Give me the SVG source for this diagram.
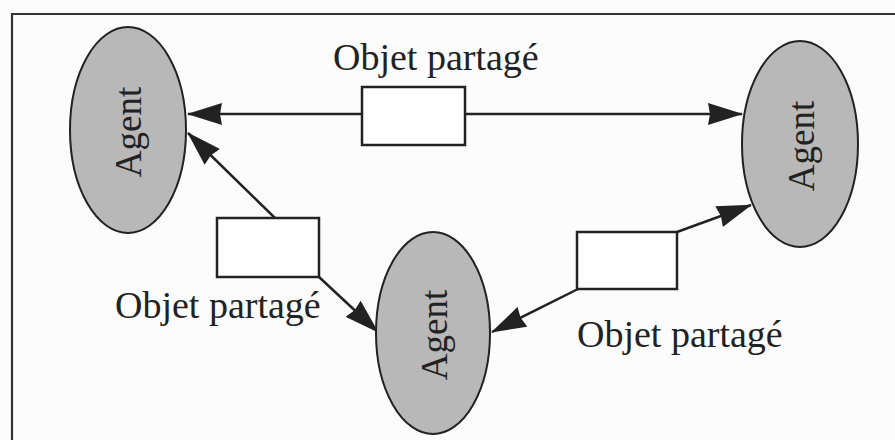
<svg xmlns="http://www.w3.org/2000/svg" width="895" height="440" viewBox="0 0 895 440">
<style>
.frame{fill:none;stroke:#333;stroke-width:2.2}
.agent{fill:#b8b8b8;stroke:#222;stroke-width:2}
.box{fill:#fff;stroke:#222;stroke-width:2.5}
.conn{stroke:#222;stroke-width:2.5;fill:none;marker-end:url(#ah)}
.lbl{font-family:"Liberation Serif","Times New Roman",serif;font-size:38px;fill:#222}
.atxt{font-family:"Liberation Serif","Times New Roman",serif;font-size:37px;fill:#222;text-anchor:middle}
</style>
<defs>
<marker id="ah" viewBox="0 0 35 22" refX="34" refY="11" markerWidth="35" markerHeight="22" markerUnits="userSpaceOnUse" orient="auto">
<path d="M0,0 L35,11 L0,22 L2,11 z" fill="#222"/>
</marker>
</defs>
<rect x="0" y="0" width="895" height="440" fill="#fcfcfc"/>
<path class="frame" d="M12,440 L12,14 L895,14"/>
<g id="connectors">
<line class="conn" x1="362" y1="114" x2="188" y2="114"/>
<line class="conn" x1="465" y1="114" x2="742" y2="114"/>
<line class="conn" x1="275" y1="218" x2="188" y2="133"/>
<line class="conn" x1="319" y1="277" x2="378" y2="332"/>
<line class="conn" x1="677" y1="232" x2="751" y2="205"/>
<line class="conn" x1="578" y1="289" x2="492" y2="332"/>
</g>
<g id="agent-left">
<ellipse class="agent" cx="128" cy="130" rx="58" ry="103"/>
<text class="atxt" transform="translate(128,132) rotate(-90)" x="0" y="13">Agent</text>
</g>
<g id="agent-right">
<ellipse class="agent" cx="800" cy="144" rx="58" ry="103"/>
<text class="atxt" transform="translate(801,146) rotate(-90)" x="0" y="13">Agent</text>
</g>
<g id="agent-bottom">
<ellipse class="agent" cx="433" cy="333" rx="57" ry="101"/>
<text class="atxt" transform="translate(434,335) rotate(-90)" x="0" y="13">Agent</text>
</g>
<g id="obj-top">
<rect class="box" x="362" y="87" width="103" height="58"/>
<text class="lbl" x="333" y="70">Objet partagé</text>
</g>
<g id="obj-left">
<rect class="box" x="217" y="218" width="102" height="59"/>
<text class="lbl" x="115" y="318">Objet partagé</text>
</g>
<g id="obj-right">
<rect class="box" x="577" y="232" width="100" height="57"/>
<text class="lbl" x="577" y="347">Objet partagé</text>
</g>
</svg>
